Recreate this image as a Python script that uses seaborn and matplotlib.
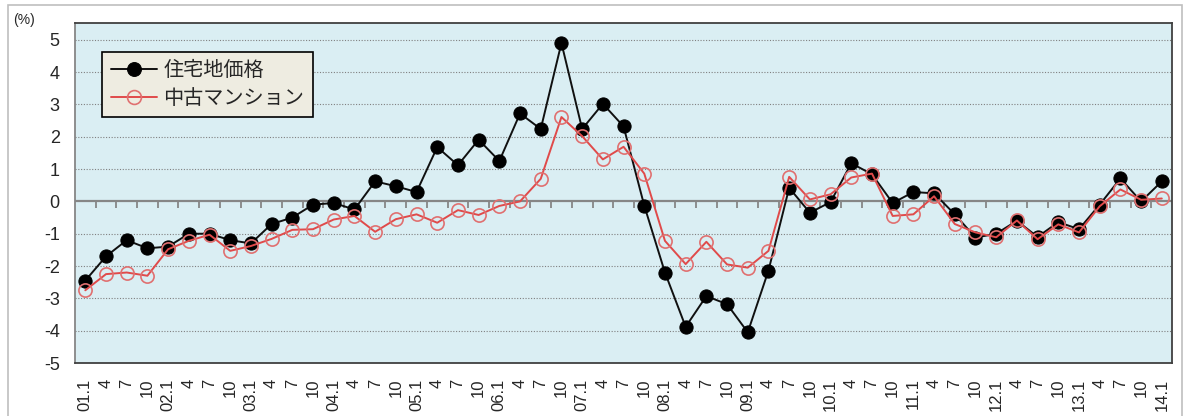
import numpy as np
import pandas as pd
import seaborn as sns
import matplotlib.pyplot as plt
from matplotlib.patches import Rectangle

# Quarterly labels 2001Q1 - 2014Q1
quarter_labels = [
    "01.1", "4", "7", "10", "02.1", "4", "7", "10", "03.1", "4", "7", "10",
    "04.1", "4", "7", "10", "05.1", "4", "7", "10", "06.1", "4", "7", "10",
    "07.1", "4", "7", "10", "08.1", "4", "7", "10", "09.1", "4", "7", "10",
    "10.1", "4", "7", "10", "11.1", "4", "7", "10", "12.1", "4", "7", "10",
    "13.1", "4", "7", "10", "14.1",
]

# 住宅地価格 (residential land price, % change)
land_price = [
    -2.45, -1.7, -1.2, -1.45, -1.4, -1.0, -1.0, -1.2, -1.3, -0.7, -0.5, -0.1,
    -0.05, -0.25, 0.62, 0.47, 0.29, 1.68, 1.12, 1.91, 1.25, 2.72, 2.24, 4.9,
    2.24, 3.02, 2.32, -0.13, -2.2, -3.88, -2.93, -3.18, -4.05, -2.14, 0.42, -0.35,
    -0.02, 1.18, 0.84, -0.05, 0.29, 0.25, -0.4, -1.12, -1.0, -0.6, -1.1, -0.64,
    -0.86, -0.1, 0.71, 0.0, 0.62,
]

# 中古マンション (used condominium, % change)
condo_price = [
    -2.75, -2.25, -2.2, -2.3, -1.48, -1.22, -1.03, -1.53, -1.38, -1.16, -0.88, -0.86,
    -0.56, -0.45, -0.94, -0.55, -0.4, -0.66, -0.27, -0.42, -0.14, 0.0, 0.7, 2.61,
    2.02, 1.3, 1.69, 0.86, -1.22, -1.94, -1.25, -1.95, -2.05, -1.53, 0.76, 0.06,
    0.22, 0.74, 0.86, -0.45, -0.4, 0.16, -0.7, -0.96, -1.11, -0.59, -1.17, -0.71,
    -0.96, -0.15, 0.37, 0.05, 0.09,
]

df = pd.DataFrame({
    "q": np.arange(len(quarter_labels)),
    "land": land_price,
    "condo": condo_price,
})

sns.set_style("white")
plt.rcParams["font.family"] = ["Liberation Sans", "Noto Sans CJK JP"]

fig = plt.figure(figsize=(11.84, 4.16), dpi=100)
ax = fig.add_axes([0.0633, 0.1274, 0.9267, 0.8173])
ax.set_facecolor("#DAEEF3")

# gridlines
for yv in range(-4, 6):
    if yv != 0:
        ax.axhline(yv, color="#808080", lw=0.8, ls=(0, (1, 1.5)), zorder=1)
ax.axhline(0, color="#868686", lw=1.6, zorder=2)
ax.vlines(df["q"][:-1] + 0.5, -0.2, 0, color="#868686", lw=1.3, zorder=2)

sns.lineplot(data=df, x="q", y="land", ax=ax, color="#101010", lw=1.4,
             marker="o", markersize=9.5, markerfacecolor="black",
             markeredgecolor="black", label="住宅地価格", zorder=3)
sns.lineplot(data=df, x="q", y="condo", ax=ax, color="#E04A4A", lw=1.4,
             marker="o", markersize=9.5, markerfacecolor="none",
             markeredgecolor="#E07070", markeredgewidth=1.2,
             label="中古マンション", zorder=4)

ax.set_xlim(-0.5, len(quarter_labels) - 0.5)
ax.set_ylim(-5, 5.52)
ax.set_yticks(range(-5, 6))
ax.set_yticklabels([str(v) for v in range(-5, 6)], fontsize=13)
ax.set_xticks(df["q"])
ax.set_xticklabels(quarter_labels, rotation=90, fontsize=12, va="top")
ax.tick_params(axis="x", length=0, pad=11)
ax.tick_params(axis="y", length=6, width=1, color="#808080", direction="out", pad=5)
ax.set_xlabel("")
ax.set_ylabel("")

for side in ["top", "right", "bottom"]:
    ax.spines[side].set_color("#404040")
    ax.spines[side].set_linewidth(1.3)
ax.spines["left"].set_color("#868686")
ax.spines["left"].set_linewidth(1.3)

leg = ax.legend(loc="upper left", bbox_to_anchor=(0.0246, 0.915), fontsize=14.5,
                frameon=True, fancybox=False, framealpha=1, edgecolor="black",
                facecolor="#EEECE1", handlelength=2.3, borderpad=0.45,
                labelspacing=0.45, handletextpad=0.3, borderaxespad=0,
                markerscale=1.05)
leg.get_frame().set_linewidth(1.2)

fig.text(13 / 1184, 1 - 20 / 416, "(%)", fontsize=10, va="center", ha="left")
fig.patches.append(Rectangle((0.007, -0.02), 0.991, 1.008, transform=fig.transFigure,
                             fill=False, edgecolor="#BFBFBF", lw=1.2))

fig.savefig("out.png", dpi=100)
